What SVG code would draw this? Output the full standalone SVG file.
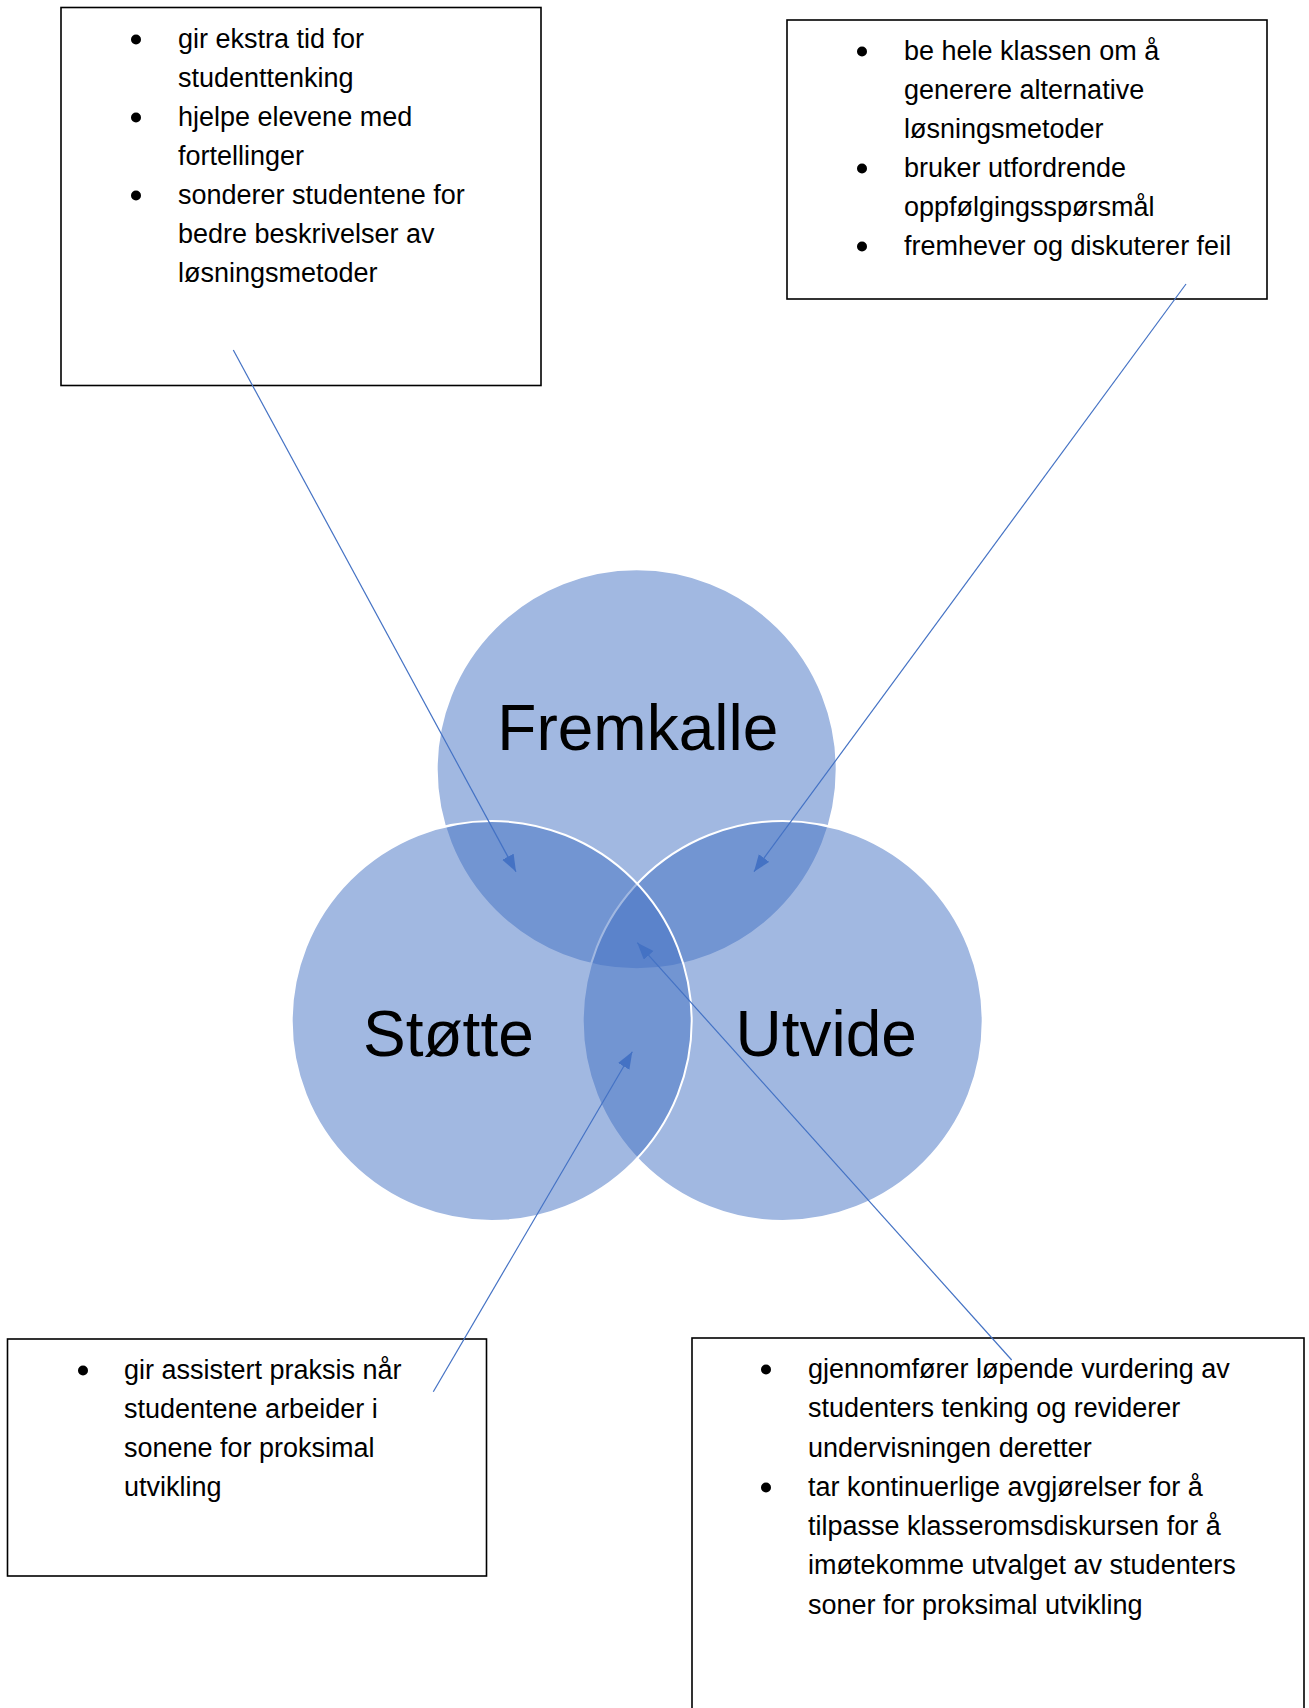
<svg xmlns="http://www.w3.org/2000/svg" width="1309" height="1708" viewBox="0 0 1309 1708">
<defs>
<style>
.box{fill:#fff;stroke:#000;stroke-width:1.6}
.t{font-family:"Liberation Sans",Arial,sans-serif;font-size:27px;fill:#000}
.big{font-family:"Liberation Sans",Arial,sans-serif;font-size:64px;fill:#000;text-anchor:middle}
.bul{fill:#000}
.c{fill:#4472C4;fill-opacity:0.5;stroke:#fff;stroke-width:2}
.con{stroke:#4472C4;stroke-width:1.2;fill:none;marker-end:url(#arr)}
</style>
<marker id="arr" markerUnits="userSpaceOnUse" markerWidth="20" markerHeight="16" refX="17" refY="6.5" orient="auto">
<path d="M0,0 L17,6.5 L0,13 z" fill="#4472C4"/>
</marker>
</defs>
<rect width="1309" height="1708" fill="#fff"/>

<g id="box-top-left">
<rect class="box" x="61" y="7.5" width="480" height="378"/>
<circle class="bul" cx="136" cy="39.5" r="5"/>
<circle class="bul" cx="136" cy="117.5" r="5"/>
<circle class="bul" cx="136" cy="195.5" r="5"/>
<text class="t" x="178" y="48">gir ekstra tid for</text>
<text class="t" x="178" y="87">studenttenking</text>
<text class="t" x="178" y="126">hjelpe elevene med</text>
<text class="t" x="178" y="165">fortellinger</text>
<text class="t" x="178" y="204">sonderer studentene for</text>
<text class="t" x="178" y="243">bedre beskrivelser av</text>
<text class="t" x="178" y="282">løsningsmetoder</text>
</g>

<g id="box-top-right">
<rect class="box" x="787" y="20" width="480" height="279"/>
<circle class="bul" cx="862" cy="51.5" r="5"/>
<circle class="bul" cx="862" cy="168.5" r="5"/>
<circle class="bul" cx="862" cy="246.5" r="5"/>
<text class="t" x="904" y="60">be hele klassen om å</text>
<text class="t" x="904" y="99">generere alternative</text>
<text class="t" x="904" y="138">løsningsmetoder</text>
<text class="t" x="904" y="177">bruker utfordrende</text>
<text class="t" x="904" y="216">oppfølgingsspørsmål</text>
<text class="t" x="904" y="255">fremhever og diskuterer feil</text>
</g>

<g id="box-bottom-left">
<rect class="box" x="7.5" y="1339" width="479" height="237"/>
<circle class="bul" cx="83" cy="1370.5" r="5"/>
<text class="t" x="124" y="1379">gir assistert praksis når</text>
<text class="t" x="124" y="1418">studentene arbeider i</text>
<text class="t" x="124" y="1457">sonene for proksimal</text>
<text class="t" x="124" y="1496">utvikling</text>
</g>

<g id="box-bottom-right">
<rect class="box" x="692" y="1338" width="612" height="420"/>
<circle class="bul" cx="766" cy="1369.5" r="5"/>
<circle class="bul" cx="766" cy="1487.5" r="5"/>
<text class="t" x="808" y="1378">gjennomfører løpende vurdering av</text>
<text class="t" x="808" y="1417">studenters tenking og reviderer</text>
<text class="t" x="808" y="1457">undervisningen deretter</text>
<text class="t" x="808" y="1496">tar kontinuerlige avgjørelser for å</text>
<text class="t" x="808" y="1535">tilpasse klasseromsdiskursen for å</text>
<text class="t" x="808" y="1574">imøtekomme utvalget av studenters</text>
<text class="t" x="808" y="1614">soner for proksimal utvikling</text>
</g>

<g id="venn">
<g id="circle-fremkalle"><circle class="c" cx="636.7" cy="769.3" r="200"/></g>
<g id="circle-utvide"><circle class="c" cx="782.7" cy="1021" r="200"/></g>
<g id="circle-stotte"><circle class="c" cx="491.7" cy="1021" r="200"/></g>
<text class="big" x="637.8" y="750">Fremkalle</text>
<text class="big" x="448.4" y="1055.7">Støtte</text>
<text class="big" x="826.2" y="1056">Utvide</text>
</g>

<g id="connectors">
<line class="con" x1="233.3" y1="350" x2="516" y2="871.7"/>
<line class="con" x1="1186" y1="284" x2="754" y2="871.7"/>
<line class="con" x1="433.3" y1="1391.7" x2="632.3" y2="1051.7"/>
<line class="con" x1="1011.7" y1="1360" x2="637.3" y2="942.7"/>
</g>
</svg>
